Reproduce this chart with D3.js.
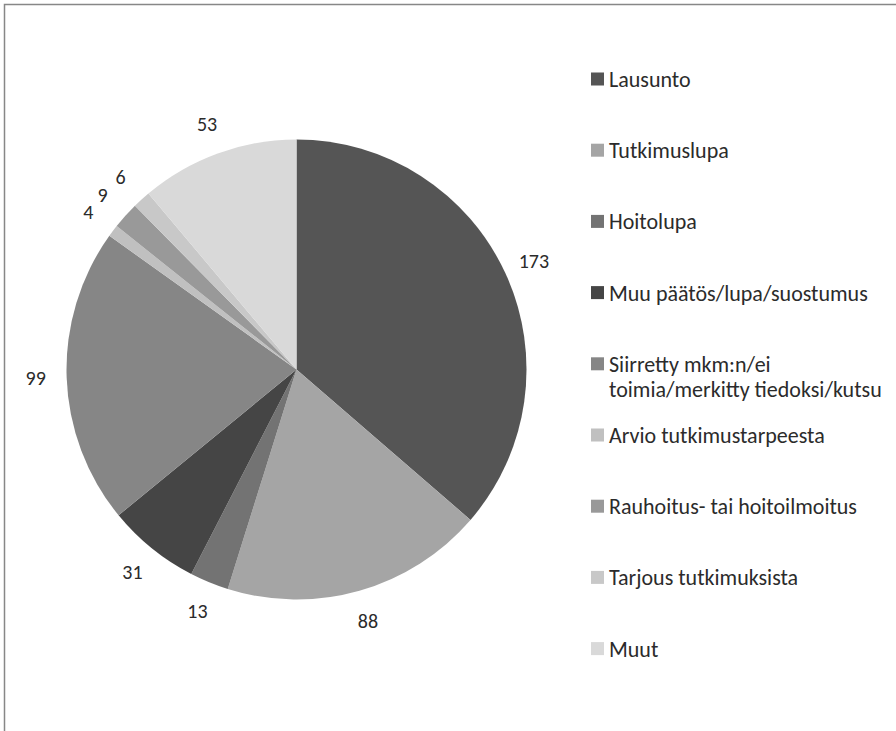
<!DOCTYPE html>
<html>
<head>
<meta charset="utf-8">
<script src="https://cdn.jsdelivr.net/npm/d3@7"></script>
<style>
  html, body { margin: 0; padding: 0; background: #fff; }
  svg { display: block; }
  text { font-family: Carlito, Lato, "Open Sans", sans-serif; fill: #2b2b2b; }
</style>
</head>
<body>
<svg id="chart" width="896" height="731"></svg>
<script>
// Case categories and counts
const categories = [
  "Lausunto",
  "Tutkimuslupa",
  "Hoitolupa",
  "Muu päätös/lupa/suostumus",
  "Siirretty mkm:n/ei toimia/merkitty tiedoksi/kutsu",
  "Arvio tutkimustarpeesta",
  "Rauhoitus- tai hoitoilmoitus",
  "Tarjous tutkimuksista",
  "Muut"
];
const values = [173, 88, 13, 31, 99, 4, 9, 6, 53];
// Legend lines (long entry wraps onto two lines)
const legendLines = [
  ["Lausunto"],
  ["Tutkimuslupa"],
  ["Hoitolupa"],
  ["Muu päätös/lupa/suostumus"],
  ["Siirretty mkm:n/ei", "toimia/merkitty tiedoksi/kutsu"],
  ["Arvio tutkimustarpeesta"],
  ["Rauhoitus- tai hoitoilmoitus"],
  ["Tarjous tutkimuksista"],
  ["Muut"]
];
const colors = ["#555555", "#a5a5a5", "#737373", "#454545", "#868686",
                "#c0c0c0", "#999999", "#c8c8c8", "#d9d9d9"];

const svg = d3.select("#chart");

// Chart area frame (top and left edges visible)
svg.append("path")
  .attr("d", "M4.5,731 V4.5 H896")
  .attr("fill", "none")
  .attr("stroke", "#878787")
  .attr("stroke-width", 1.5);

const cx = 296.5, cy = 369.5, radius = 230;
const color = d3.scaleOrdinal().domain(categories).range(colors);

const pie = d3.pie().sort(null).value(d => d.value);
const data = categories.map((c, i) => ({ name: c, value: values[i] }));
const arcs = pie(data);

const arc = d3.arc().innerRadius(0).outerRadius(radius);
const labelArc = d3.arc().innerRadius(261).outerRadius(261);

const g = svg.append("g").attr("transform", `translate(${cx},${cy})`);

g.selectAll("path.slice")
  .data(arcs)
  .join("path")
  .attr("class", "slice")
  .attr("d", arc)
  .attr("fill", d => color(d.data.name));

g.selectAll("text.val")
  .data(arcs)
  .join("text")
  .attr("class", "val")
  .attr("transform", d => `translate(${labelArc.centroid(d)})`)
  .attr("text-anchor", "middle")
  .attr("dominant-baseline", "central")
  .attr("font-size", 20)
  .text(d => d.data.value);

// Legend
const legendX = 591, legendTop = 79, legendStep = 71.2;
const lg = svg.append("g");
const items = lg.selectAll("g.item")
  .data(categories)
  .join("g")
  .attr("class", "item")
  .attr("transform", (d, i) => `translate(${legendX},${legendTop + i * legendStep})`);

items.append("rect")
  .attr("x", 0).attr("y", -6.5)
  .attr("width", 13).attr("height", 13)
  .attr("fill", d => color(d));

items.each(function(d, i) {
  const t = d3.select(this).append("text")
    .attr("x", 18)
    .attr("font-size", 22)
    .attr("dominant-baseline", "central");
  legendLines[i].forEach((line, j) => {
    t.append("tspan").attr("x", 18).attr("y", j * 25).text(line);
  });
});
</script>
</body>
</html>
